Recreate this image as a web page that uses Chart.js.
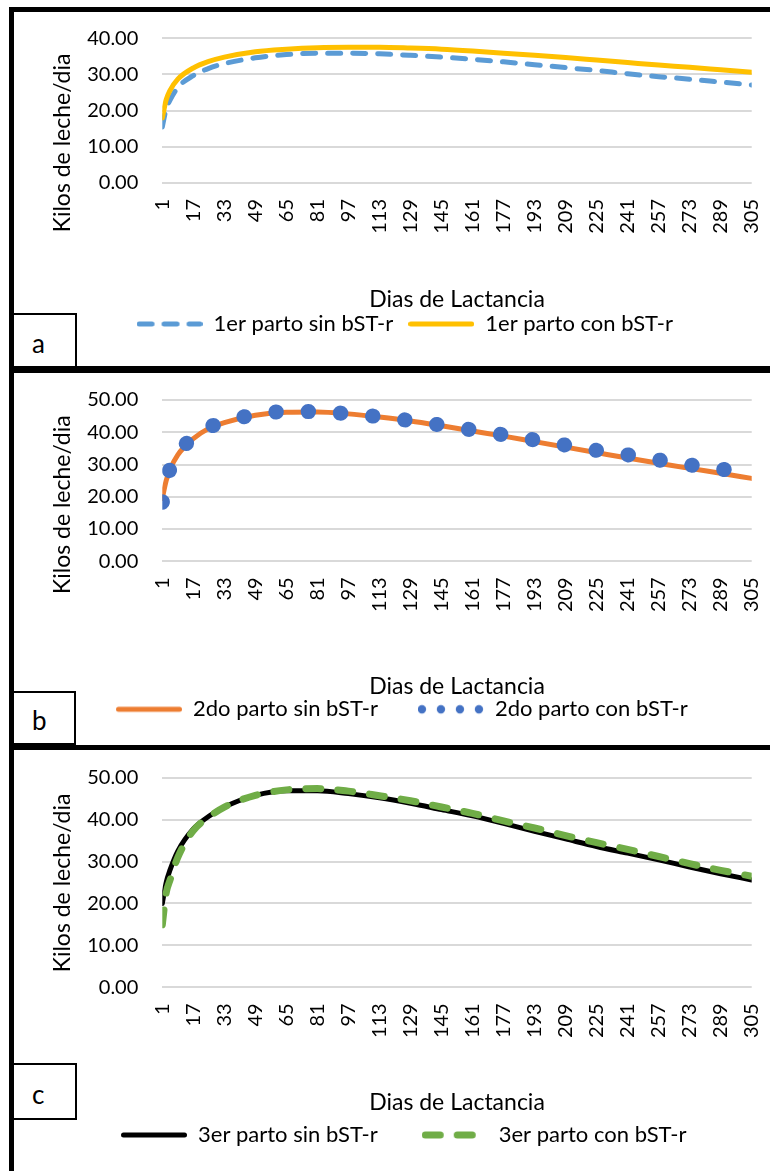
<!DOCTYPE html>
<html lang="es">
<head>
<meta charset="UTF-8">
<title>Curvas de lactancia con y sin bST-r</title>
<script src="https://cdnjs.cloudflare.com/ajax/libs/Chart.js/4.4.1/chart.umd.min.js"></script>
<style>
  body {
    margin: 0;
    width: 770px;
    height: 1171px;
    overflow: hidden;
    position: relative;
    background: #fff;
    font-family: Lato, sans-serif;
  }
  .frame {
    position: absolute;
    left: 9px;
    top: 7px;
    width: 800px;
    height: 1200px;
    border-left: 5px solid #000;
    border-top: 5px solid #000;
  }
  .sep {
    position: absolute;
    left: 9px;
    width: 800px;
    background: #000;
  }
  .chart-box {
    position: absolute;
    left: 14px;
    width: 800px;
  }
  .tag {
    position: absolute;
    left: 12px;
    box-sizing: border-box;
    border: 2px solid #000;
    background: #fff;
    font-size: 26px;
    display: flex;
    align-items: center;
    padding: 4px 0 0 18px;
  }
</style>
</head>
<body>

<div class="frame"></div>

<div class="chart-box" style="top:11px; height:355px;"><canvas id="chartA"></canvas></div>
<div class="chart-box" style="top:374px; height:371px;"><canvas id="chartB"></canvas></div>
<div class="chart-box" style="top:750px; height:421px;"><canvas id="chartC"></canvas></div>

<div class="sep" style="top:366px; height:7px;"></div>
<div class="sep" style="top:745px; height:5px;"></div>

<div class="tag" style="top:313px; width:65px; height:55px;">a</div>
<div class="tag" style="top:691px; width:64px; height:54px;">b</div>
<div class="tag" style="top:1063px; width:65px; height:57px;">c</div>

<script>
  // dias de lactancia donde se leyeron los valores
  const days = [1, 3, 5, 9, 17, 25, 33, 49, 65, 81, 97, 113, 129, 145, 161, 177, 193, 209, 225, 241, 257, 273, 289, 305];
  // etiquetas del eje x
  const tickDays = [1, 17, 33, 49, 65, 81, 97, 113, 129, 145, 161, 177, 193, 209, 225, 241, 257, 273, 289, 305];

  // kilos de leche/dia
  const parto1Sin = [15.5, 20.5, 22.9, 26.4, 29.7, 31.7, 33.0, 34.6, 35.5, 35.9, 35.9, 35.7, 35.3, 34.8, 34.2, 33.5, 32.7, 31.9, 31.1, 30.2, 29.4, 28.7, 27.9, 27.1];
  const parto1Con = [18.0, 23.0, 25.6, 28.7, 31.8, 33.6, 34.8, 36.3, 37.0, 37.4, 37.5, 37.5, 37.3, 37.0, 36.5, 35.9, 35.3, 34.7, 34.0, 33.3, 32.6, 32.0, 31.3, 30.6];
  const parto2Sin = [19.5, 25.0, 28.5, 33.0, 38.0, 41.2, 43.0, 45.3, 46.2, 46.3, 45.7, 44.7, 43.5, 42.0, 40.4, 38.8, 37.1, 35.4, 33.7, 32.0, 30.4, 28.8, 27.3, 25.7];
  const parto2Con = [18.3, 24.5, 28.7, 33.5, 38.3, 41.5, 43.2, 45.5, 46.4, 46.4, 45.7, 44.8, 43.6, 42.2, 40.7, 39.2, 37.6, 36.0, 34.4, 33.0, 31.4, 29.9, 28.6, 27.2];
  const parto3Sin = [20.0, 25.0, 28.0, 32.5, 37.8, 40.8, 43.0, 45.8, 46.9, 46.9, 46.2, 45.2, 43.9, 42.4, 40.9, 39.1, 37.2, 35.4, 33.6, 32.0, 30.4, 28.7, 27.1, 25.6];
  const parto3Con = [14.9, 22.5, 25.6, 31.0, 37.4, 40.6, 43.0, 45.8, 47.1, 47.4, 46.8, 45.7, 44.5, 43.0, 41.5, 39.7, 38.0, 36.2, 34.5, 32.9, 31.2, 29.5, 27.9, 26.5];

  Chart.defaults.font.family = 'Lato, sans-serif';
  Chart.defaults.color = '#000';

  const points = values => days.map((d, i) => ({ x: d, y: values[i] }));

  // muestras de linea para la leyenda
  function lineSample(color, width, dash) {
    const c = document.createElement('canvas');
    c.width = 66;
    c.height = 14;
    const g = c.getContext('2d');
    g.strokeStyle = color;
    g.lineWidth = width;
    g.lineCap = 'round';
    g.setLineDash(dash || []);
    g.beginPath();
    g.moveTo(width / 2, 7);
    g.lineTo(66 - width / 2, 7);
    g.stroke();
    return c;
  }

  function dotSample(color) {
    const c = document.createElement('canvas');
    c.width = 66;
    c.height = 14;
    const g = c.getContext('2d');
    g.fillStyle = color;
    [4, 23, 42, 61].forEach(x => {
      g.beginPath();
      g.arc(x, 7, 4.2, 0, Math.PI * 2);
      g.fill();
    });
    return c;
  }

  // titulo vertical del eje y
  const yTitlePlugin = {
    id: 'yTitle',
    afterDraw(chart, args, opts) {
      const ctx = chart.ctx;
      ctx.save();
      ctx.font = '23px Lato, sans-serif';
      ctx.fillStyle = '#000';
      ctx.textAlign = 'center';
      ctx.textBaseline = 'middle';
      ctx.translate(opts.x, opts.y);
      ctx.rotate(-Math.PI / 2);
      ctx.fillText(opts.text, 0, 0);
      ctx.restore();
    }
  };

  function makeChart(id, cfg) {
    return new Chart(id, {
      type: 'line',
      data: { datasets: cfg.datasets },
      plugins: [yTitlePlugin],
      options: {
        responsive: true,
        maintainAspectRatio: false,
        animation: false,
        layout: { padding: cfg.padding },
        elements: { point: { radius: 0, hoverRadius: 0 } },
        scales: {
          x: {
            type: 'linear',
            min: 1,
            max: 305,
            afterBuildTicks: s => { s.ticks = tickDays.map(v => ({ value: v })); },
            afterFit: s => { s.height = cfg.xHeight; },
            ticks: {
              autoSkip: false,
              minRotation: 90,
              maxRotation: 90,
              padding: 16,
              font: { size: 20 },
              callback: v => String(v)
            },
            grid: { display: false, drawTicks: false },
            border: { display: false },
            title: {
              display: true,
              text: 'Dias de Lactancia',
              font: { size: 23 },
              padding: { top: 0, bottom: cfg.titlePad }
            }
          },
          y: {
            min: 0,
            max: cfg.yMax,
            afterFit: s => {
              s.width = cfg.yWidth;
              s.paddingTop = 0;
              s.paddingBottom = 0;
            },
            ticks: {
              stepSize: 10,
              padding: 24,
              font: { size: 20 },
              callback: v => v.toFixed(2)
            },
            grid: { color: '#d9d9d9', lineWidth: 2, drawTicks: false },
            border: { display: false }
          }
        },
        plugins: {
          tooltip: { enabled: false },
          yTitle: { text: 'Kilos de leche/dia', x: 48.5, y: cfg.yTitleY },
          legend: {
            position: 'bottom',
            align: cfg.legendAlign,
            labels: {
              usePointStyle: true,
              pointStyleWidth: 66,
              padding: cfg.legendPad,
              font: { size: 22 },
              sort: (a, b) => a.datasetIndex - b.datasetIndex
            }
          }
        }
      }
    });
  }

  makeChart('chartA', {
    yMax: 40,
    padding: { top: 27.3, right: 62.3, bottom: 21, left: 43.8 },
    yWidth: 104.5,
    xHeight: 115,
    titlePad: -15.8,
    legendPad: 15,
    legendAlign: 'center',
    yTitleY: 132,
    datasets: [{
      label: '1er parto sin bST-r',
      data: points(parto1Sin),
      borderColor: '#5B9BD5',
      borderWidth: 5,
      borderDash: [13, 12],
      borderCapStyle: 'round',
      cubicInterpolationMode: 'monotone',
      pointStyle: lineSample('#5B9BD5', 5, [13, 12]),
      order: 1
    }, {
      label: '1er parto con bST-r',
      data: points(parto1Con),
      borderColor: '#FFC000',
      borderWidth: 5,
      borderCapStyle: 'round',
      cubicInterpolationMode: 'monotone',
      pointStyle: lineSample('#FFC000', 5),
      order: 0
    }]
  });

  makeChart('chartB', {
    yMax: 50,
    padding: { top: 26, right: 62.3, bottom: 14.7, left: 62 },
    yWidth: 86.3,
    xHeight: 97,
    titlePad: -42.5,
    legendPad: 40,
    legendAlign: 'start',
    yTitleY: 130.7,
    datasets: [{
      label: '2do parto sin bST-r',
      data: points(parto2Sin),
      borderColor: '#ED7D31',
      borderWidth: 5,
      borderCapStyle: 'round',
      cubicInterpolationMode: 'monotone',
      pointStyle: lineSample('#ED7D31', 5),
      order: 1
    }, {
      label: '2do parto con bST-r',
      data: points(parto2Con),
      borderColor: '#4472C4',
      borderWidth: 15,
      borderDash: [0.5, 31.8],
      borderCapStyle: 'round',
      cubicInterpolationMode: 'monotone',
      pointStyle: dotSample('#4472C4'),
      order: 0
    }]
  });

  makeChart('chartC', {
    yMax: 50,
    padding: { top: 27.7, right: 62.3, bottom: 15, left: 63 },
    yWidth: 85.3,
    xHeight: 92.7,
    titlePad: -36.8,
    legendPad: 44,
    legendAlign: 'start',
    yTitleY: 133,
    datasets: [{
      label: '3er parto sin bST-r',
      data: points(parto3Sin),
      borderColor: '#000000',
      borderWidth: 5,
      borderCapStyle: 'round',
      cubicInterpolationMode: 'monotone',
      pointStyle: lineSample('#000000', 5),
      order: 1
    }, {
      label: '3er parto con bST-r',
      data: points(parto3Con),
      borderColor: '#70AD47',
      borderWidth: 7,
      borderDash: [15, 17],
      borderCapStyle: 'round',
      cubicInterpolationMode: 'monotone',
      pointStyle: lineSample('#70AD47', 7, [15, 17]),
      order: 0
    }]
  });
</script>

</body>
</html>
